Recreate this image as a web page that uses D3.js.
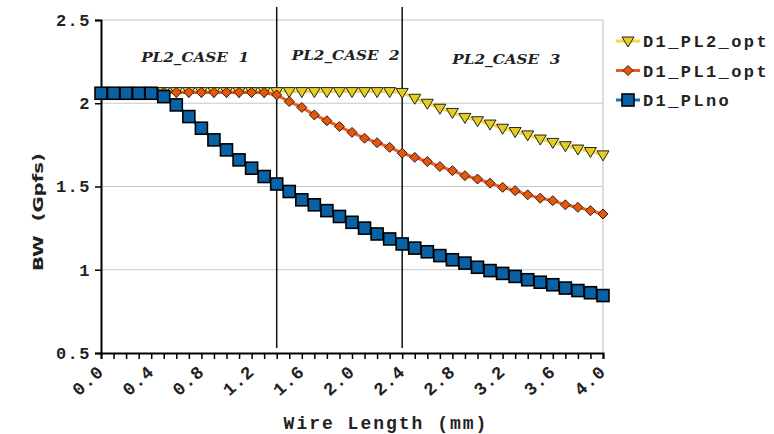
<!DOCTYPE html>
<html>
<head>
<meta charset="utf-8">
<script src="https://cdn.jsdelivr.net/npm/d3@7"></script>
<style>
  body { margin: 0; background: #fff; }
  svg { display: block; }
</style>
</head>
<body>
<div id="canvas"></div>
<script>
// wire length 0.0 .. 4.0 mm, step 0.1
const lengths = d3.range(41).map(i => +(i / 10).toFixed(1));

const pl2Opt = [
  2.07, 2.07, 2.07, 2.07, 2.07, 2.07, 2.07, 2.07, 2.07, 2.07,
  2.07, 2.07, 2.07, 2.07, 2.07, 2.07, 2.07, 2.07, 2.07, 2.07,
  2.07, 2.07, 2.07, 2.07, 2.065, 2.03, 2.0, 1.97, 1.945, 1.915,
  1.895, 1.875, 1.85, 1.83, 1.81, 1.785, 1.765, 1.745, 1.725, 1.71,
  1.69
];
const pl1Opt = [
  2.065, 2.065, 2.065, 2.065, 2.065, 2.065, 2.065, 2.065, 2.065, 2.065,
  2.065, 2.065, 2.065, 2.065, 2.05, 2.01, 1.975, 1.93, 1.895, 1.86,
  1.825, 1.79, 1.763, 1.735, 1.70, 1.675, 1.65, 1.62, 1.595, 1.565,
  1.545, 1.52, 1.495, 1.475, 1.45, 1.43, 1.415, 1.39, 1.375, 1.355,
  1.335
];
const plNo = [
  2.06, 2.06, 2.06, 2.06, 2.06, 2.04, 1.99, 1.92, 1.85, 1.78,
  1.72, 1.66, 1.61, 1.56, 1.515, 1.47, 1.42, 1.39, 1.355, 1.32,
  1.285, 1.25, 1.215, 1.185, 1.155, 1.13, 1.108, 1.085, 1.06, 1.04,
  1.015, 0.995, 0.978, 0.96, 0.94, 0.925, 0.91, 0.89, 0.875, 0.862,
  0.845
];

const yTicks = [0.5, 1, 1.5, 2, 2.5];
const xLabelTicks = [0.0, 0.4, 0.8, 1.2, 1.6, 2.0, 2.4, 2.8, 3.2, 3.6, 4.0];
const caseBounds = [1.4, 2.4];
const caseLabels = ["PL2_CASE  1", "PL2_CASE  2", "PL2_CASE  3"];

const series = [
  { name: "D1_PL2_opt", values: pl2Opt, line: "#f4dc3c", fill: "#e6cc22", marker: "tri" },
  { name: "D1_PL1_opt", values: pl1Opt, line: "#f05a1a", fill: "#e8560c", marker: "diamond" },
  { name: "D1_PLno", values: plNo, line: "#1f6fb5", fill: "#0a62a6", marker: "square" }
];

const width = 774, height = 434;
const margin = { top: 20, left: 101, bottom: 81, right: 171 };

const svg = d3.select("#canvas").append("svg")
  .attr("width", width)
  .attr("height", height);

const x = d3.scaleLinear().domain([0, 4]).range([margin.left, width - margin.right]);
const y = d3.scaleLinear().domain([0.5, 2.5]).range([height - margin.bottom, margin.top]);

const mono = "'Liberation Mono', 'Courier New', monospace";

// grid
svg.append("g")
  .selectAll("line")
  .data(yTicks.slice(1))
  .enter().append("line")
  .attr("x1", x(0)).attr("x2", x(4))
  .attr("y1", d => y(d)).attr("y2", d => y(d))
  .attr("stroke", "#c8c8c8").attr("stroke-width", 1.2);
svg.append("line")
  .attr("x1", x(4)).attr("x2", x(4))
  .attr("y1", y(2.5)).attr("y2", y(0.5))
  .attr("stroke", "#c8c8c8").attr("stroke-width", 1.2);

// case separators
svg.append("g")
  .selectAll("line")
  .data(caseBounds)
  .enter().append("line")
  .attr("x1", d => x(d)).attr("x2", d => x(d))
  .attr("y1", 7).attr("y2", y(0.5) - 5)
  .attr("stroke", "#111").attr("stroke-width", 1.5);

const caseX = [(0 + 1.4) / 2 + 0.05, (1.4 + 2.4) / 2 + 0.05, (2.4 + 4) / 2 + 0.03];
const caseY = [57, 55, 59];
svg.append("g")
  .selectAll("text")
  .data(caseLabels)
  .enter().append("text")
  .attr("x", (d, i) => x(caseX[i]))
  .attr("y", (d, i) => caseY[i] + 5)
  .attr("text-anchor", "middle")
  .attr("textLength", 108)
  .attr("lengthAdjust", "spacingAndGlyphs")
  .style("white-space", "pre")
  .style("font-family", "'DejaVu Serif', serif")
  .style("font-style", "italic")
  .style("font-weight", "bold")
  .style("font-size", "13px")
  .attr("fill", "#222")
  .text(d => d);

// axes
const xAxis = svg.append("g")
  .attr("transform", `translate(0,${y(0.5)})`)
  .call(d3.axisBottom(x).tickValues(lengths).tickSize(6).tickFormat(""));
xAxis.select(".domain").attr("stroke", "#000").attr("stroke-width", 2);
xAxis.selectAll(".tick line").attr("stroke", "#000").attr("stroke-width", 1.5);

svg.append("g")
  .selectAll("text")
  .data(xLabelTicks)
  .enter().append("text")
  .attr("transform", d => `translate(${x(d) + 4},${y(0.5) + 20}) rotate(-42)`)
  .attr("text-anchor", "end")
  .style("font-family", mono)
  .style("font-weight", "bold")
  .style("font-size", "18px")
  .style("letter-spacing", "1px")
  .attr("fill", "#222")
  .text(d => d.toFixed(1));

const yAxis = svg.append("g")
  .attr("transform", `translate(${x(0)},0)`)
  .call(d3.axisLeft(y).tickValues(yTicks).tickSize(6).tickPadding(4)
    .tickFormat(d => String(d)));
yAxis.select(".domain").attr("stroke", "#000").attr("stroke-width", 2);
yAxis.selectAll(".tick line").attr("stroke", "#000").attr("stroke-width", 1.5);
yAxis.selectAll(".tick text")
  .style("font-family", mono)
  .style("font-weight", "bold")
  .style("font-size", "17px")
  .style("letter-spacing", "1.5px")
  .attr("fill", "#222");

// axis titles
svg.append("text")
  .attr("x", 386).attr("y", 429)
  .attr("text-anchor", "middle")
  .style("font-family", mono)
  .style("font-weight", "bold")
  .style("font-size", "18px")
  .style("letter-spacing", "2px")
  .attr("fill", "#222")
  .text("Wire Length (mm)");

svg.append("text")
  .attr("transform", "translate(43,212) rotate(-90)")
  .attr("text-anchor", "middle")
  .attr("textLength", 118)
  .attr("lengthAdjust", "spacingAndGlyphs")
  .style("white-space", "pre")
  .style("font-family", "'DejaVu Sans', Verdana, sans-serif")
  .style("font-weight", "bold")
  .style("font-size", "14px")
  .attr("fill", "#222")
  .text("BW  (Gpfs)");

// markers
function drawMarker(g, type, fill) {
  if (type === "square") {
    g.append("rect").attr("x", -6).attr("y", -6).attr("width", 12).attr("height", 12)
      .attr("fill", fill).attr("stroke", "#000").attr("stroke-width", 1.6);
  } else if (type === "diamond") {
    g.append("path").attr("d", "M0,-5L5,0L0,5L-5,0Z")
      .attr("fill", fill).attr("stroke", "#222").attr("stroke-width", 1);
  } else {
    g.append("path").attr("d", "M-6,-4L6,-4L0,6Z")
      .attr("fill", fill).attr("stroke", "#222").attr("stroke-width", 1);
  }
}

const line = d3.line()
  .x((d, i) => x(lengths[i]))
  .y(d => y(d));

series.forEach(s => {
  svg.append("path")
    .datum(s.values)
    .attr("fill", "none")
    .attr("stroke", s.line)
    .attr("stroke-width", 3)
    .attr("d", line);
  svg.append("g")
    .selectAll("g")
    .data(s.values)
    .enter().append("g")
    .attr("transform", (d, i) => `translate(${x(lengths[i])},${y(d)})`)
    .each(function () { drawMarker(d3.select(this), s.marker, s.fill); });
});

// legend
const legend = svg.append("g");
series.forEach((s, i) => {
  const ly = 41 + i * 29.5;
  legend.append("line")
    .attr("x1", 616).attr("x2", 640).attr("y1", ly).attr("y2", ly)
    .attr("stroke", s.line).attr("stroke-width", 3);
  const m = legend.append("g").attr("transform", `translate(628,${ly})`);
  drawMarker(m, s.marker, s.fill);
  legend.append("text")
    .attr("x", 643).attr("y", ly + 6)
    .style("font-family", mono)
    .style("font-weight", "bold")
    .style("font-size", "17px")
    .style("letter-spacing", "2.4px")
    .attr("fill", "#222")
    .text(s.name);
});
</script>
</body>
</html>
